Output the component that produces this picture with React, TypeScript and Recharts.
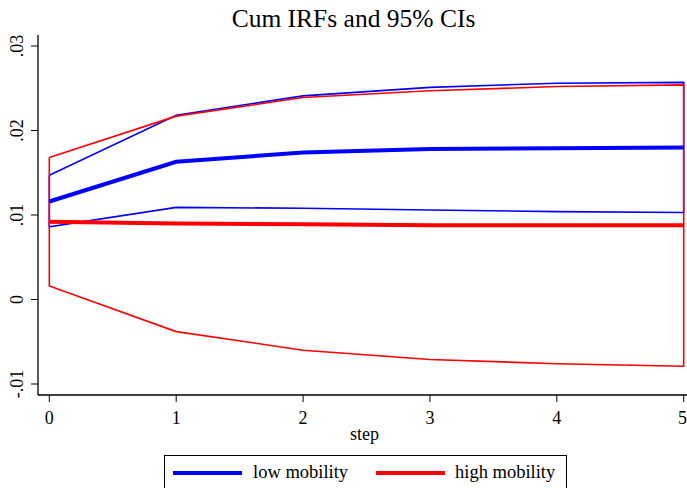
import React from 'react';
import { LineChart, Line, XAxis, YAxis, Legend } from 'recharts';

// Forecast horizon
const steps = [0, 1, 2, 3, 4, 5];

// Low mobility: cumulative IRF and 95% CI bounds
const lowIrf = [0.0116, 0.0163, 0.0174, 0.0178, 0.0179, 0.018];
const lowLo = [0.0086, 0.0109, 0.0108, 0.0106, 0.0104, 0.0103];
const lowHi = [0.0147, 0.0218, 0.0241, 0.0251, 0.0256, 0.0257];

// High mobility: cumulative IRF and 95% CI bounds
const highIrf = [0.0092, 0.009, 0.0089, 0.0088, 0.0088, 0.0088];
const highLo = [0.0016, -0.0038, -0.006, -0.0071, -0.0076, -0.0079];
const highHi = [0.0168, 0.0217, 0.0239, 0.0247, 0.0252, 0.0254];

const yTicks = [-0.01, 0, 0.01, 0.02, 0.03];
const xTicks = steps;

const BLUE = '#0000ff';
const RED = '#ff0000';
const FONT = '"Liberation Serif", "Times New Roman", serif';

type Pt = { x: number; y: number };

const series = (ys: number[]): Pt[] => steps.map((s, i) => ({ x: s, y: ys[i] }));

// Closed outline of a confidence band: upper bound forward, lower bound back.
const bandOutline = (lo: number[], hi: number[]): Pt[] => {
  const up = steps.map((s, i) => ({ x: s, y: hi[i] }));
  const down = steps.map((s, i) => ({ x: s, y: lo[i] })).reverse();
  return [...up, ...down, up[0]];
};

const fmtY = (v: number) => {
  if (Math.abs(v) < 1e-12) return '0';
  const s = v.toFixed(2);
  return s.replace(/^(-?)0\./, '$1.');
};

const YTick = (props: any) => {
  const { x, y, payload } = props;
  const bx = x - 6;
  return (
    <text
      x={bx}
      y={y}
      transform={`rotate(-90 ${bx} ${y})`}
      textAnchor="middle"
      fontFamily={FONT}
      fontSize={18}
      fill="#000"
    >
      {fmtY(payload.value)}
    </text>
  );
};

const StepLabel = (props: any) => {
  const { viewBox } = props;
  return (
    <text
      x={viewBox.x + viewBox.width / 2 + 2}
      y={440}
      textAnchor="middle"
      fontFamily={FONT}
      fontSize={18}
      fill="#000"
    >
      step
    </text>
  );
};

const LegendBox = () => (
  <div
    style={{
      width: 403,
      height: 40,
      border: '1px solid #000',
      boxSizing: 'border-box',
      position: 'relative',
      fontFamily: FONT,
      fontSize: 18.5,
      background: '#fff',
    }}
  >
    <div style={{ position: 'absolute', left: 8, top: 15, width: 69, height: 4, background: BLUE }} />
    <div style={{ position: 'absolute', left: 88, top: 4, lineHeight: '24px', whiteSpace: 'nowrap' }}>
      low mobility
    </div>
    <div style={{ position: 'absolute', left: 211, top: 15, width: 69, height: 4, background: RED }} />
    <div style={{ position: 'absolute', left: 290, top: 4, lineHeight: '24px', whiteSpace: 'nowrap' }}>
      high mobility
    </div>
  </div>
);

export default function App() {
  return (
    <div style={{ position: 'absolute', left: 0, top: 0, background: '#fff' }}>
      <LineChart
        width={687}
        height={488}
        margin={{ top: 35, right: 0, bottom: 53, left: 0 }}
      >
        <text
          x={353.5}
          y={26.5}
          textAnchor="middle"
          fontFamily={FONT}
          fontSize={25.5}
          fill="#000"
        >
          Cum IRFs and 95% CIs
        </text>
        <XAxis
          xAxisId="main"
          type="number"
          dataKey="x"
          domain={[-0.0891, 5.026]}
          ticks={xTicks}
          allowDataOverflow
          height={40}
          tickSize={7}
          tickMargin={9}
          axisLine={{ stroke: '#000', strokeWidth: 1.3 }}
          tickLine={{ stroke: '#000', strokeWidth: 1 }}
          tick={{ fill: '#000', fontFamily: FONT, fontSize: 18 }}
          label={<StepLabel />}
        />
        <XAxis
          xAxisId="frame"
          orientation="top"
          type="number"
          dataKey="x"
          domain={[-0.0891, 5.026]}
          height={0}
          tick={false}
          tickLine={false}
          axisLine={{ stroke: '#6e6e6e', strokeWidth: 1.6 }}
        />
        <YAxis
          type="number"
          dataKey="y"
          domain={[-0.011302, 0.031302]}
          ticks={yTicks}
          allowDataOverflow
          width={38}
          tickSize={7}
          axisLine={{ stroke: '#000', strokeWidth: 1.3 }}
          tickLine={{ stroke: '#000', strokeWidth: 1 }}
          tick={<YTick />}
        />
        <Legend
          layout="horizontal"
          align="center"
          verticalAlign="middle"
          wrapperStyle={{ left: 164, top: 455, width: 404 }}
          content={<LegendBox />}
        />
        <Line
          xAxisId="main"
          data={bandOutline(lowLo, lowHi)}
          dataKey="y"
          stroke={BLUE}
          strokeWidth={1.6}
          dot={false}
          activeDot={false}
          type="linear"
          isAnimationActive={false}
        />
        <Line
          xAxisId="main"
          data={bandOutline(highLo, highHi)}
          dataKey="y"
          stroke={RED}
          strokeWidth={1.6}
          dot={false}
          activeDot={false}
          type="linear"
          isAnimationActive={false}
        />
        <Line
          xAxisId="main"
          data={series(lowIrf)}
          dataKey="y"
          stroke={BLUE}
          strokeWidth={4}
          dot={false}
          activeDot={false}
          type="linear"
          isAnimationActive={false}
        />
        <Line
          xAxisId="main"
          data={series(highIrf)}
          dataKey="y"
          stroke={RED}
          strokeWidth={4}
          dot={false}
          activeDot={false}
          type="linear"
          isAnimationActive={false}
        />
      </LineChart>
    </div>
  );
}
